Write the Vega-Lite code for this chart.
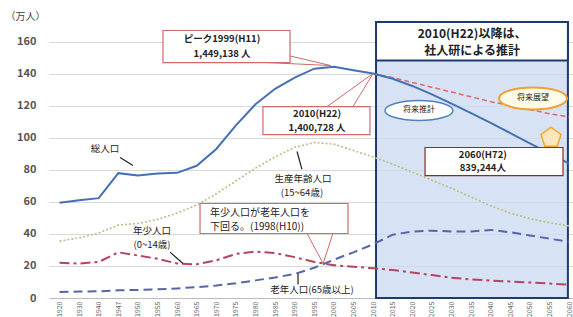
{
  "$schema": "https://vega.github.io/schema/vega-lite/v6.json",
  "width": 524,
  "height": 276,
  "autosize": {"type": "none"},
  "padding": {"left": 49, "top": 22, "right": 0, "bottom": 19},
  "background": "#ffffff",
  "config": {"font": "Noto Sans CJK JP", "view": {"stroke": null}},
  "datasets": {
    "series": [
      {"s":"total","i":0,"v":59.5},{"s":"total","i":1,"v":61.0},{"s":"total","i":2,"v":62.3},{"s":"total","i":3,"v":77.9},{"s":"total","i":4,"v":76.4},{"s":"total","i":5,"v":77.7},{"s":"total","i":6,"v":78.1},{"s":"total","i":7,"v":82.5},{"s":"total","i":8,"v":93.0},{"s":"total","i":9,"v":107.7},{"s":"total","i":10,"v":120.9},{"s":"total","i":11,"v":130.5},{"s":"total","i":12,"v":137.5},{"s":"total","i":13,"v":143.1},{"s":"total","i":14,"v":144.3},{"s":"total","i":15,"v":142.1},{"s":"total","i":16,"v":140.1},{"s":"total","i":17,"v":136.8},{"s":"total","i":18,"v":132.3},{"s":"total","i":19,"v":127.0},{"s":"total","i":20,"v":121.3},{"s":"total","i":21,"v":115.3},{"s":"total","i":22,"v":109.2},{"s":"total","i":23,"v":102.9},{"s":"total","i":24,"v":96.5},{"s":"total","i":25,"v":90.2},{"s":"total","i":26,"v":83.9},
      {"s":"work","i":0,"v":35.5},{"s":"work","i":1,"v":37.5},{"s":"work","i":2,"v":40.5},{"s":"work","i":3,"v":45.5},{"s":"work","i":4,"v":46.5},{"s":"work","i":5,"v":49},{"s":"work","i":6,"v":53},{"s":"work","i":7,"v":58},{"s":"work","i":8,"v":65},{"s":"work","i":9,"v":73},{"s":"work","i":10,"v":81},{"s":"work","i":11,"v":88},{"s":"work","i":12,"v":94},{"s":"work","i":13,"v":97},{"s":"work","i":14,"v":96},{"s":"work","i":15,"v":92},{"s":"work","i":16,"v":88},{"s":"work","i":17,"v":83.5},{"s":"work","i":18,"v":78.5},{"s":"work","i":19,"v":73.5},{"s":"work","i":20,"v":68.5},{"s":"work","i":21,"v":63},{"s":"work","i":22,"v":57.5},{"s":"work","i":23,"v":53},{"s":"work","i":24,"v":49.5},{"s":"work","i":25,"v":47},{"s":"work","i":26,"v":45},
      {"s":"old","i":0,"v":3.8},{"s":"old","i":1,"v":4.0},{"s":"old","i":2,"v":4.2},{"s":"old","i":3,"v":4.8},{"s":"old","i":4,"v":5.0},{"s":"old","i":5,"v":5.4},{"s":"old","i":6,"v":6.0},{"s":"old","i":7,"v":6.8},{"s":"old","i":8,"v":7.8},{"s":"old","i":9,"v":9.2},{"s":"old","i":10,"v":11.0},{"s":"old","i":11,"v":12.8},{"s":"old","i":12,"v":15.0},{"s":"old","i":13,"v":18.9},{"s":"old","i":14,"v":23.9},{"s":"old","i":15,"v":28.5},{"s":"old","i":16,"v":33.5},{"s":"old","i":17,"v":39.5},{"s":"old","i":18,"v":41.5},{"s":"old","i":19,"v":42},{"s":"old","i":20,"v":41.5},{"s":"old","i":21,"v":41.5},{"s":"old","i":22,"v":42.5},{"s":"old","i":23,"v":41},{"s":"old","i":24,"v":39},{"s":"old","i":25,"v":37},{"s":"old","i":26,"v":35},
      {"s":"young","i":0,"v":22},{"s":"young","i":1,"v":21.5},{"s":"young","i":2,"v":22.5},{"s":"young","i":3,"v":28.5},{"s":"young","i":4,"v":26.5},{"s":"young","i":5,"v":24.5},{"s":"young","i":6,"v":21.5},{"s":"young","i":7,"v":21},{"s":"young","i":8,"v":23.5},{"s":"young","i":9,"v":27.5},{"s":"young","i":10,"v":29},{"s":"young","i":11,"v":28},{"s":"young","i":12,"v":25.5},{"s":"young","i":13,"v":22.5},{"s":"young","i":14,"v":20.5},{"s":"young","i":15,"v":19.5},{"s":"young","i":16,"v":18.5},{"s":"young","i":17,"v":17.5},{"s":"young","i":18,"v":15.9},{"s":"young","i":19,"v":14.3},{"s":"young","i":20,"v":12.6},{"s":"young","i":21,"v":11.6},{"s":"young","i":22,"v":10.9},{"s":"young","i":23,"v":10.3},{"s":"young","i":24,"v":9.7},{"s":"young","i":25,"v":9.0},{"s":"young","i":26,"v":8.4}
    ],
    "outlook": [
      {"i":16,"v":140.1},{"i":17,"v":137.5},{"i":18,"v":134.5},{"i":19,"v":131.5},{"i":20,"v":128.5},{"i":21,"v":125.5},{"i":22,"v":122.5},{"i":23,"v":120},{"i":24,"v":117.5},{"i":25,"v":115},{"i":26,"v":113}
    ],
    "shade": [{"i":16.15,"i2":25.94,"v":0,"v2":172.2}],
    "topbox": [{"i":16.15,"i2":25.94,"v":148.2,"v2":172.2}],
    "redboxes": [
      {"i":5.28,"i2":11.76,"v":146.9,"v2":166.9},
      {"i":10.38,"i2":15.84,"v":101.9,"v2":119.4},
      {"i":7.17,"i2":14.72,"v":40.24,"v2":58.95}
    ],
    "darkbox": [{"i":18.65,"i2":25.69,"v":76.4,"v2":93.9}],
    "wedges": [
      {"id":"a","o":1,"i":10.6,"v":146.9},{"id":"a","o":2,"i":13.85,"v":145},{"id":"a","o":3,"i":11.76,"v":151},
      {"id":"b","o":1,"i":13.65,"v":119.4},{"id":"b","o":2,"i":16,"v":140.1},{"id":"b","o":3,"i":14.97,"v":119.4},
      {"id":"c","o":1,"i":12.63,"v":40.24},{"id":"c","o":2,"i":13.45,"v":21.6},{"id":"c","o":3,"i":13.95,"v":40.24}
    ],
    "arrows": [
      {"id":"a","o":1,"i":3.09,"v":87.6},{"id":"a","o":2,"i":3.75,"v":82.7},
      {"id":"b","o":1,"i":5.64,"v":28.6},{"id":"b","o":2,"i":6.3,"v":21.5},
      {"id":"c","o":1,"i":12.37,"v":80.3},{"id":"c","o":2,"i":12.12,"v":91.4},
      {"id":"d","o":1,"i":12.17,"v":8.4},{"id":"d","o":2,"i":12.17,"v":15.3}
    ],
    "boxtext": [
      {"t":"ピーク1999(H11)","i":8.29,"v":161.9},
      {"t":"1,449,138 人","i":8.29,"v":152.5},
      {"t":"2010(H22)","i":13.14,"v":114.9},
      {"t":"1,400,728 人","i":13.14,"v":106.2},
      {"t":"2060(H72)","i":21.6,"v":89.5},
      {"t":"839,244人","i":21.6,"v":80.8}
    ],
    "toptext": [
      {"t":"2010(H22)以降は、","i":21.05,"v":165},
      {"t":"社人研による推計","i":21.05,"v":154.4}
    ],
    "labels": [
      {"t":"総人口","i":2.32,"v":93.2},
      {"t":"年少人口","i":4.72,"v":41.5},
      {"t":"(0~14歳)","i":4.72,"v":32.8},
      {"t":"生産年齢人口","i":12.42,"v":74.0},
      {"t":"(15~64歳)","i":12.37,"v":65.3},
      {"t":"老年人口(65歳以上)","i":12.88,"v":4.7}
    ],
    "crosstext": [
      {"t":"年少人口が老年人口を","i":7.68,"v":53.0},
      {"t":"下回る。(1998(H10))","i":7.68,"v":44.0}
    ],
    "ell1": [{"t":"将来推計","i":18.34,"v":117}],
    "ell2": [{"t":"将来展望","i":24.16,"v":124.5}],
    "star": [{"i":25.08,"v":100}]
  },
  "encoding": {
    "x": {
      "field": "i", "type": "quantitative",
      "scale": {"domain": [-0.536, 26.2], "nice": false, "zero": false},
      "axis": {
        "title": null,
        "values": [0,1,2,3,4,5,6,7,8,9,10,11,12,13,14,15,16,17,18,19,20,21,22,23,24,25,26],
        "labelExpr": "['1920','1930','1940','1947','1950','1955','1960','1965','1970','1975','1980','1985','1990','1995','2000','2005','2010','2015','2020','2025','2030','2035','2040','2045','2050','2055','2060'][datum.value]",
        "labelAngle": -90, "labelFontSize": 7, "labelColor": "#666666",
        "grid": false, "ticks": false, "domain": true, "domainColor": "#bbbbbb",
        "labelPadding": 3, "labelOverlap": false
      }
    },
    "y": {
      "field": "v", "type": "quantitative",
      "scale": {"domain": [0, 172.2], "nice": false, "zero": true},
      "axis": {
        "title": "（万人）", "titleAngle": 0, "titleX": -44, "titleY": -6,
        "titleAlign": "left", "titleBaseline": "middle", "titleFontSize": 10,
        "titleFontWeight": "normal", "titleColor": "#444444",
        "values": [0,20,40,60,80,100,120,140,160],
        "grid": true, "gridColor": "#d9d9d9", "domain": false, "ticks": false,
        "labelFontSize": 11, "labelFontWeight": "bold", "labelColor": "#555555", "labelPadding": 13
      }
    }
  },
  "layer": [
    {
      "data": {"name": "shade"},
      "mark": {"type": "rect", "fill": "#c9daf0", "fillOpacity": 0.75, "stroke": "#1f3a6e", "strokeWidth": 2},
      "encoding": {"x2": {"field": "i2"}, "y2": {"field": "v2"}}
    },
    {
      "data": {"name": "topbox"},
      "mark": {"type": "rect", "fill": "#ffffff", "stroke": "#1f3a6e", "strokeWidth": 2},
      "encoding": {"x2": {"field": "i2"}, "y2": {"field": "v2"}}
    },
    {
      "mark": {"type": "rule", "color": "#bbbbbb", "strokeWidth": 1},
      "encoding": {"x": {"datum": -0.536, "type": "quantitative"}, "y": {"datum": 0, "type": "quantitative"}, "y2": {"datum": 160}}
    },
    {
      "data": {"name": "series"},
      "transform": [{"filter": "datum.s == 'work'"}],
      "mark": {"type": "line", "color": "#bcbd86", "strokeWidth": 1.6, "strokeDash": [2, 2]},
      "encoding": {}
    },
    {
      "data": {"name": "series"},
      "transform": [{"filter": "datum.s == 'old'"}],
      "mark": {"type": "line", "color": "#5565a8", "strokeWidth": 2, "strokeDash": [9, 5]},
      "encoding": {}
    },
    {
      "data": {"name": "series"},
      "transform": [{"filter": "datum.s == 'young'"}],
      "mark": {"type": "line", "color": "#b5445f", "strokeWidth": 2, "strokeDash": [10, 4, 3, 4]},
      "encoding": {}
    },
    {
      "data": {"name": "outlook"},
      "mark": {"type": "line", "color": "#e06a6a", "strokeWidth": 1.5, "strokeDash": [5, 3]},
      "encoding": {}
    },
    {
      "data": {"name": "series"},
      "transform": [{"filter": "datum.s == 'total'"}],
      "mark": {"type": "line", "color": "#4670b4", "strokeWidth": 2},
      "encoding": {}
    },
    {
      "data": {"name": "wedges"},
      "mark": {"type": "line", "color": "#d06a6a", "strokeWidth": 1},
      "encoding": {"detail": {"field": "id"}, "order": {"field": "o"}}
    },
    {
      "data": {"name": "redboxes"},
      "mark": {"type": "rect", "fill": "#ffffff", "stroke": "#d06a6a", "strokeWidth": 1.2},
      "encoding": {"x2": {"field": "i2"}, "y2": {"field": "v2"}}
    },
    {
      "data": {"name": "darkbox"},
      "mark": {"type": "rect", "fill": "#ffffff", "stroke": "#8b2a2a", "strokeWidth": 1.2},
      "encoding": {"x2": {"field": "i2"}, "y2": {"field": "v2"}}
    },
    {
      "data": {"name": "arrows"},
      "mark": {"type": "line", "color": "#222222", "strokeWidth": 1.2},
      "encoding": {"detail": {"field": "id"}, "order": {"field": "o"}}
    },
    {
      "data": {"name": "ell1"},
      "mark": {"type": "point", "shape": "M-1,0A1,0.294,0,1,1,1,0A1,0.294,0,1,1,-1,0Z", "size": 4624, "filled": true, "fill": "#ffffff", "stroke": "#4f81bd", "strokeWidth": 1.5, "opacity": 1},
      "encoding": {}
    },
    {
      "data": {"name": "ell2"},
      "mark": {"type": "point", "shape": "M-1,0A1,0.324,0,1,1,1,0A1,0.324,0,1,1,-1,0Z", "size": 4624, "filled": true, "fill": "#fffbea", "stroke": "#f0a030", "strokeWidth": 2, "opacity": 1},
      "encoding": {}
    },
    {
      "data": {"name": "star"},
      "mark": {"type": "point", "shape": "M0,-1L0.95,-0.31L0.59,0.81L-0.59,0.81L-0.95,-0.31Z", "size": 440, "filled": true, "fill": "#fde6bf", "stroke": "#f5a623", "strokeWidth": 1.5, "opacity": 1},
      "encoding": {}
    },
    {
      "data": {"name": "ell1"},
      "mark": {"type": "text", "fontSize": 8, "color": "#222222", "align": "center", "baseline": "middle"},
      "encoding": {"text": {"field": "t"}}
    },
    {
      "data": {"name": "ell2"},
      "mark": {"type": "text", "fontSize": 8, "color": "#222222", "align": "center", "baseline": "middle"},
      "encoding": {"text": {"field": "t"}}
    },
    {
      "data": {"name": "boxtext"},
      "mark": {"type": "text", "fontSize": 9.5, "fontWeight": "bold", "color": "#222222", "align": "center", "baseline": "middle"},
      "encoding": {"text": {"field": "t"}}
    },
    {
      "data": {"name": "toptext"},
      "mark": {"type": "text", "fontSize": 12, "fontWeight": "bold", "color": "#222222", "align": "center", "baseline": "middle"},
      "encoding": {"text": {"field": "t"}}
    },
    {
      "data": {"name": "labels"},
      "mark": {"type": "text", "fontSize": 9.5, "color": "#222222", "align": "center", "baseline": "middle"},
      "encoding": {"text": {"field": "t"}}
    },
    {
      "data": {"name": "crosstext"},
      "mark": {"type": "text", "fontSize": 10, "color": "#222222", "align": "left", "baseline": "middle"},
      "encoding": {"text": {"field": "t"}}
    }
  ]
}
